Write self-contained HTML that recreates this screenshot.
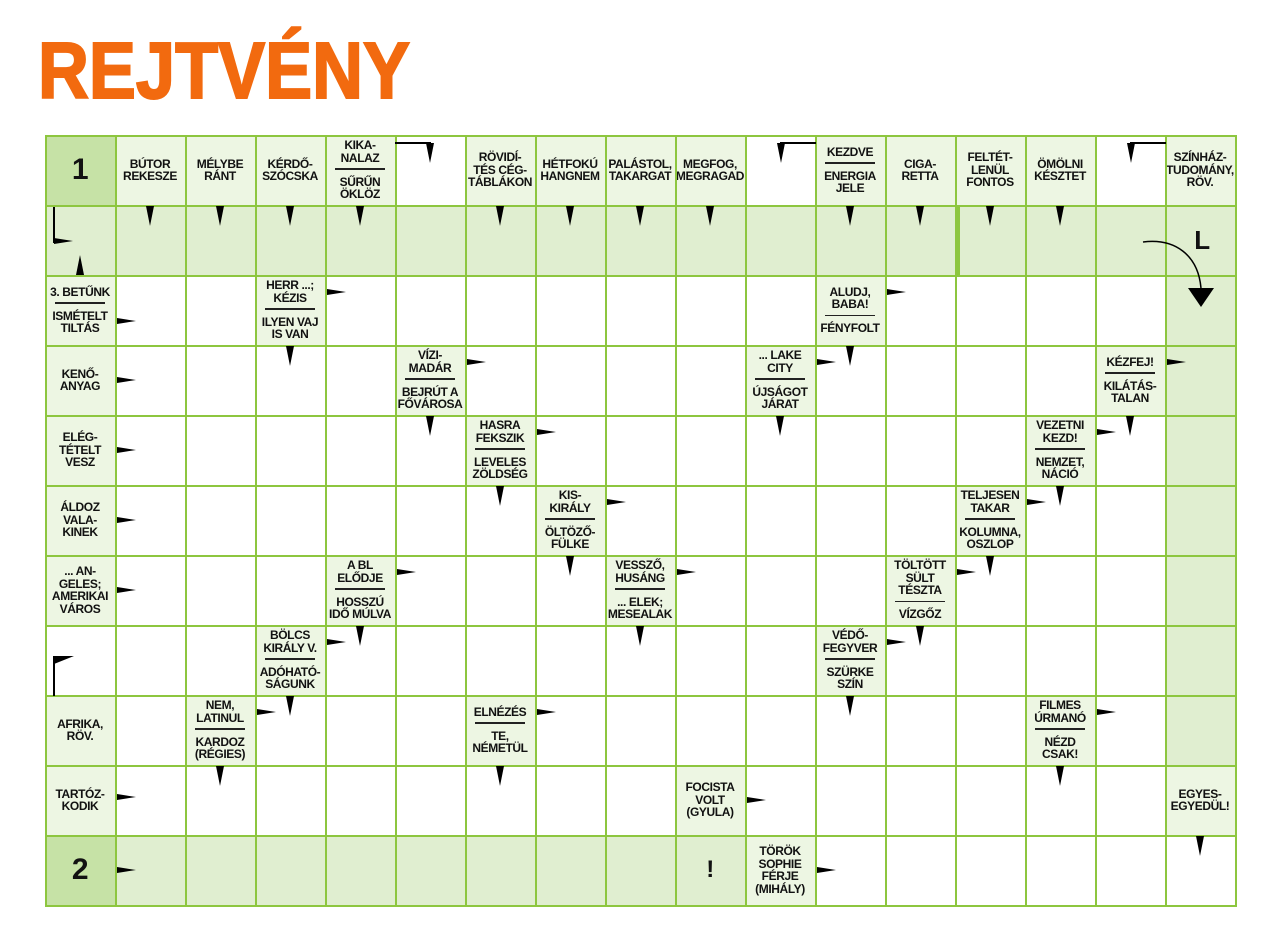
<!DOCTYPE html>
<html><head><meta charset="utf-8">
<style>
html,body{margin:0;padding:0;background:#fff;width:1280px;height:950px;overflow:hidden;position:relative;font-family:"Liberation Sans",sans-serif}
.f{position:absolute;width:70px;height:70px}
.g1{background:#e0eed0}
.g0{background:#c6e2a6}
.c{position:absolute;width:70px;height:70px;display:flex;flex-direction:column;justify-content:center;align-items:center;text-align:center;font-weight:bold;font-size:12px;line-height:12.5px;color:#111;letter-spacing:-0.4px;background:#edf6e3}
.c.w{background:transparent}
.d{display:block;width:50px;height:1.5px;background:#222;margin:4px 0 6px}
.num{font-size:30px;line-height:30px;font-weight:bold}
.grid{position:absolute;z-index:2;left:45px;top:135px;width:1190px;height:770px;border-right:2px solid #8dc63f;border-bottom:2px solid #8dc63f;
background-image:linear-gradient(to right,#8dc63f 2px,transparent 2px),linear-gradient(to bottom,#8dc63f 2px,transparent 2px);background-size:70px 70px}
.r{position:absolute;z-index:3;width:0;height:0;border-left:19px solid #000;border-top:3.5px solid transparent;border-bottom:3.5px solid transparent}
.dn{position:absolute;z-index:3;width:0;height:0;border-top:20px solid #000;border-left:4px solid transparent;border-right:4px solid transparent}
.ln{position:absolute;z-index:3;background:#000}
</style></head><body>
<svg style="position:absolute;left:0;top:0" width="460" height="110"><text x="38" y="98" font-family="Liberation Sans" font-weight="bold" font-size="80" fill="#f26a0f" textLength="372" lengthAdjust="spacingAndGlyphs" stroke="#f26a0f" stroke-width="2">REJTVÉNY</text></svg>

<div class="f g1" style="left:45px;top:205px;width:1190px"></div>
<div class="f g1" style="left:1165px;top:275px;height:490px"></div>
<div class="f g1" style="left:115px;top:835px;width:630px"></div>
<div class="f g0" style="left:45px;top:135px"></div>
<div class="f g0" style="left:45px;top:835px"></div>

<!-- row 0 -->
<div class="c w" style="left:45px;top:135px"><span class="num">1</span></div>
<div class="c" style="left:115px;top:135px">BÚTOR<br>REKESZE</div>
<div class="c" style="left:185px;top:135px">MÉLYBE<br>RÁNT</div>
<div class="c" style="left:255px;top:135px">KÉRDŐ-<br>SZÓCSKA</div>
<div class="c" style="left:325px;top:135px">KIKA-<br>NALAZ<i class="d"></i>SŰRŰN<br>ÖKLÖZ</div>
<div class="c" style="left:465px;top:135px">RÖVIDÍ-<br>TÉS CÉG-<br>TÁBLÁKON</div>
<div class="c" style="left:535px;top:135px">HÉTFOKÚ<br>HANGNEM</div>
<div class="c" style="left:605px;top:135px">PALÁSTOL,<br>TAKARGAT</div>
<div class="c" style="left:675px;top:135px">MEGFOG,<br>MEGRAGAD</div>
<div class="c" style="left:815px;top:135px">KEZDVE<i class="d"></i>ENERGIA<br>JELE</div>
<div class="c" style="left:885px;top:135px">CIGA-<br>RETTA</div>
<div class="c" style="left:955px;top:135px">FELTÉT-<br>LENÜL<br>FONTOS</div>
<div class="c" style="left:1025px;top:135px">ÖMÖLNI<br>KÉSZTET</div>
<div class="c" style="left:1165px;top:135px">SZÍNHÁZ-<br>TUDOMÁNY,<br>RÖV.</div>

<!-- col 0 -->
<div class="c" style="left:45px;top:275px">3. BETŰNK<i class="d"></i>ISMÉTELT<br>TILTÁS</div>
<div class="c" style="left:45px;top:345px">KENŐ-<br>ANYAG</div>
<div class="c" style="left:45px;top:415px">ELÉG-<br>TÉTELT<br>VESZ</div>
<div class="c" style="left:45px;top:485px">ÁLDOZ<br>VALA-<br>KINEK</div>
<div class="c" style="left:45px;top:555px">... AN-<br>GELES;<br>AMERIKAI<br>VÁROS</div>
<div class="c w" style="left:45px;top:625px"></div>
<div class="c" style="left:45px;top:695px">AFRIKA,<br>RÖV.</div>
<div class="c" style="left:45px;top:765px">TARTÓZ-<br>KODIK</div>
<div class="c w" style="left:45px;top:835px"><span class="num">2</span></div>

<!-- inner clues -->
<div class="c" style="left:255px;top:275px">HERR ...;<br>KÉZIS<i class="d"></i>ILYEN VAJ<br>IS VAN</div>
<div class="c" style="left:815px;top:275px">ALUDJ,<br>BABA!<i class="d"></i>FÉNYFOLT</div>
<div class="c" style="left:395px;top:345px">VÍZI-<br>MADÁR<i class="d"></i>BEJRÚT A<br>FŐVÁROSA</div>
<div class="c" style="left:745px;top:345px">... LAKE<br>CITY<i class="d"></i>ÚJSÁGOT<br>JÁRAT</div>
<div class="c" style="left:1095px;top:345px">KÉZFEJ!<i class="d"></i>KILÁTÁS-<br>TALAN</div>
<div class="c" style="left:465px;top:415px">HASRA<br>FEKSZIK<i class="d"></i>LEVELES<br>ZÖLDSÉG</div>
<div class="c" style="left:1025px;top:415px">VEZETNI<br>KEZD!<i class="d"></i>NEMZET,<br>NÁCIÓ</div>
<div class="c" style="left:535px;top:485px">KIS-<br>KIRÁLY<i class="d"></i>ÖLTÖZŐ-<br>FÜLKE</div>
<div class="c" style="left:955px;top:485px">TELJESEN<br>TAKAR<i class="d"></i>KOLUMNA,<br>OSZLOP</div>
<div class="c" style="left:325px;top:555px">A BL<br>ELŐDJE<i class="d"></i>HOSSZÚ<br>IDŐ MÚLVA</div>
<div class="c" style="left:605px;top:555px">VESSZŐ,<br>HUSÁNG<i class="d"></i>... ELEK;<br>MESEALAK</div>
<div class="c" style="left:885px;top:555px">TÖLTÖTT<br>SÜLT<br>TÉSZTA<i class="d"></i>VÍZGŐZ</div>
<div class="c" style="left:255px;top:625px">BÖLCS<br>KIRÁLY V.<i class="d"></i>ADÓHATÓ-<br>SÁGUNK</div>
<div class="c" style="left:815px;top:625px">VÉDŐ-<br>FEGYVER<i class="d"></i>SZÜRKE<br>SZÍN</div>
<div class="c" style="left:185px;top:695px">NEM,<br>LATINUL<i class="d"></i>KARDOZ<br>(RÉGIES)</div>
<div class="c" style="left:465px;top:695px">ELNÉZÉS<i class="d"></i>TE,<br>NÉMETÜL</div>
<div class="c" style="left:1025px;top:695px">FILMES<br>ÚRMANÓ<i class="d"></i>NÉZD<br>CSAK!</div>
<div class="c" style="left:675px;top:765px">FOCISTA<br>VOLT<br>(GYULA)</div>
<div class="c" style="left:1165px;top:765px">EGYES-<br>EGYEDÜL!</div>
<div class="c" style="left:745px;top:835px">TÖRÖK<br>SOPHIE<br>FÉRJE<br>(MIHÁLY)</div>
<div class="c w" style="left:675px;top:835px"><span style="font-size:24px;line-height:24px">!</span></div>
<div class="c w" style="left:1165px;top:205px"><span style="font-size:26px;line-height:26px;margin-left:4px">L</span></div>

<div class="grid"></div>
<div class="ln" style="left:955px;top:205px;width:5px;height:70px;background:#8dc63f"></div>

<!-- row1 down arrows -->
<div class="dn" style="left:146px;top:206px"></div>
<div class="dn" style="left:216px;top:206px"></div>
<div class="dn" style="left:286px;top:206px"></div>
<div class="dn" style="left:356px;top:206px"></div>
<div class="dn" style="left:496px;top:206px"></div>
<div class="dn" style="left:566px;top:206px"></div>
<div class="dn" style="left:636px;top:206px"></div>
<div class="dn" style="left:706px;top:206px"></div>
<div class="dn" style="left:846px;top:206px"></div>
<div class="dn" style="left:916px;top:206px"></div>
<div class="dn" style="left:986px;top:206px"></div>
<div class="dn" style="left:1056px;top:206px"></div>

<!-- brackets row 0 -->
<div class="ln" style="left:395px;top:142px;width:36px;height:1.5px"></div>
<div class="dn" style="left:426px;top:143px"></div>
<div class="ln" style="left:780px;top:142px;width:36px;height:1.5px"></div>
<div class="dn" style="left:777px;top:143px"></div>
<div class="ln" style="left:1130px;top:142px;width:36px;height:1.5px"></div>
<div class="dn" style="left:1127px;top:143px"></div>

<div class="ln" style="left:53px;top:207px;width:1.5px;height:36px"></div>
<div class="r" style="left:54px;top:238px"></div>
<div style="position:absolute;z-index:3;left:76px;top:255px;width:0;height:0;border-bottom:20px solid #000;border-left:4px solid transparent;border-right:4px solid transparent"></div>
<div class="ln" style="left:53px;top:656px;width:1.5px;height:40px"></div>
<div style="position:absolute;z-index:3;left:54px;top:656px;width:0;height:0;border-left:20px solid #000;border-bottom:8px solid transparent"></div>

<svg style="position:absolute;z-index:3;left:1130px;top:230px" width="100" height="80"><path d="M13 12 C45 8 68 25 71 58" fill="none" stroke="#000" stroke-width="1.5"/><polygon points="58,58 84,58 71,77" fill="#000"/></svg>

<div class="r" style="left:117px;top:318px"></div>
<div class="r" style="left:117px;top:377px"></div>
<div class="r" style="left:117px;top:447px"></div>
<div class="r" style="left:117px;top:517px"></div>
<div class="r" style="left:117px;top:587px"></div>
<div class="r" style="left:117px;top:794px"></div>
<div class="r" style="left:117px;top:867px"></div>

<div class="r" style="left:327px;top:289px"></div>
<div class="dn" style="left:286px;top:346px"></div>
<div class="r" style="left:887px;top:289px"></div>
<div class="dn" style="left:846px;top:346px"></div>

<div class="r" style="left:467px;top:359px"></div>
<div class="dn" style="left:426px;top:416px"></div>
<div class="r" style="left:817px;top:359px"></div>
<div class="dn" style="left:776px;top:416px"></div>
<div class="r" style="left:1167px;top:359px"></div>
<div class="dn" style="left:1126px;top:416px"></div>

<div class="r" style="left:537px;top:429px"></div>
<div class="dn" style="left:496px;top:486px"></div>
<div class="r" style="left:1097px;top:429px"></div>
<div class="dn" style="left:1056px;top:486px"></div>

<div class="r" style="left:607px;top:499px"></div>
<div class="dn" style="left:566px;top:556px"></div>
<div class="r" style="left:1027px;top:499px"></div>
<div class="dn" style="left:986px;top:556px"></div>

<div class="r" style="left:397px;top:569px"></div>
<div class="dn" style="left:356px;top:626px"></div>
<div class="r" style="left:677px;top:569px"></div>
<div class="dn" style="left:636px;top:626px"></div>
<div class="r" style="left:957px;top:569px"></div>
<div class="dn" style="left:916px;top:626px"></div>

<div class="r" style="left:327px;top:639px"></div>
<div class="dn" style="left:286px;top:696px"></div>
<div class="r" style="left:887px;top:639px"></div>
<div class="dn" style="left:846px;top:696px"></div>

<div class="r" style="left:257px;top:709px"></div>
<div class="dn" style="left:216px;top:766px"></div>
<div class="r" style="left:537px;top:709px"></div>
<div class="dn" style="left:496px;top:766px"></div>
<div class="r" style="left:1097px;top:709px"></div>
<div class="dn" style="left:1056px;top:766px"></div>

<div class="r" style="left:747px;top:797px"></div>
<div class="dn" style="left:1196px;top:836px"></div>
<div class="r" style="left:817px;top:867px"></div>
</body></html>
